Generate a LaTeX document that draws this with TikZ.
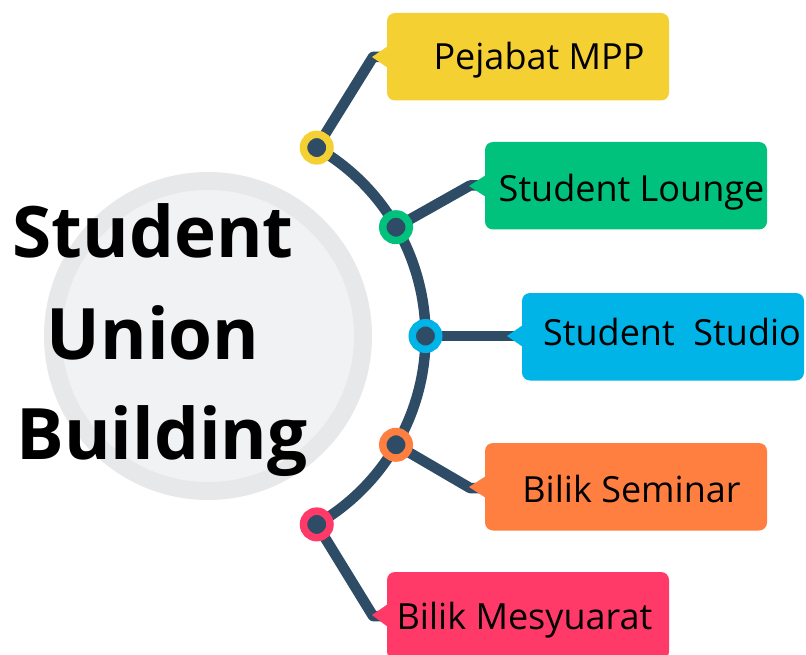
\documentclass[tikz,border=0pt]{standalone}
\usepackage{fontspec}
\setmainfont{Open Sans}
\newfontfamily\titlefont{Open Sans}
\definecolor{navy}{HTML}{2F4C66}
\definecolor{cyel}{HTML}{F5D033}
\definecolor{cgrn}{HTML}{00C27C}
\definecolor{cblu}{HTML}{00B4E8}
\definecolor{cora}{HTML}{FF7F41}
\definecolor{cpnk}{HTML}{FF3A68}
\definecolor{ringc}{HTML}{E7E8EA}
\definecolor{hubc}{HTML}{F1F2F4}
\tikzset{
 infobox/.style={rounded corners=8pt,minimum width=282pt,minimum height=87.5pt,inner sep=0pt,outer sep=0pt,anchor=north west},
 dot/.style={circle,draw=#1,line width=7.5pt,fill=navy,minimum size=26.5pt,inner sep=0pt,outer sep=0pt},
 link/.style={draw=navy,line width=10.5pt,line join=round},
 lab/.style={font=\fontsize{36}{40}\selectfont,text=black,anchor=base,inner sep=0pt},
 ttl/.style={font=\titlefont\bfseries\fontsize{71}{76}\selectfont,text=black,anchor=base,inner sep=0pt},
}
\begin{document}
\begin{tikzpicture}[x=1pt,y=-1pt]
\clip (0,0) rectangle (806,655);
\useasboundingbox (0,0) rectangle (806,655);
\fill[white] (0,0) rectangle (806,655);
% hub
\node[circle,fill=ringc,minimum size=328pt,inner sep=0pt,outer sep=0pt] (hub) at (208,336) {};
\node[circle,fill=hubc,minimum size=292pt,inner sep=0pt,outer sep=0pt] (hubin) at (208,336) {};
% elbows
\coordinate (e1) at (373,57);
\coordinate (e2) at (470,185.5);
\coordinate (e4) at (470,488);
\coordinate (e5) at (373,616);
% arc
\draw[navy,line width=10.5pt] (316.75,147.6) arc[start angle=-60,end angle=60,radius=217.5];
% boxes
\node[infobox,fill=cyel] (b1) at (387,13) {};
\node[infobox,fill=cgrn] (b2) at (485,142) {};
\node[infobox,fill=cblu] (b3) at (522,293) {};
\node[infobox,fill=cora] (b4) at (485,443) {};
\node[infobox,fill=cpnk] (b5) at (387,572) {};
% dot positions
\coordinate (p1) at (316.75,147.6);
\coordinate (p2) at (396,227.2);
\coordinate (p3) at (425.5,336);
\coordinate (p4) at (396,444.8);
\coordinate (p5) at (316.75,524.4);
% connectors
\draw[link] (p1) -- (e1) -- (b1.west|-e1);
\draw[link] (p2) -- (e2) -- (b2.west|-e2);
\draw[link] (p3) -- (b3.west|-p3);
\draw[link] (p4) -- (e4) -- (b4.west|-e4);
\draw[link] (p5) -- (e5) -- (b5.west|-e5);
% dots
\node[dot=cyel] (d1) at (p1) {};
\node[dot=cgrn] (d2) at (p2) {};
\node[dot=cblu] (d3) at (p3) {};
\node[dot=cora] (d4) at (p4) {};
\node[dot=cpnk] (d5) at (p5) {};
% pointers
\fill[cyel] (372,57) -- (388,46) -- (388,68) -- cycle;
\fill[cgrn] (469,186) -- (486,175) -- (486,197) -- cycle;
\fill[cblu] (507,336) -- (523,325) -- (523,347) -- cycle;
\fill[cora] (469,487) -- (486,476) -- (486,498) -- cycle;
\fill[cpnk] (372,615) -- (388,604) -- (388,627) -- cycle;
% labels
\node[lab] (l1) at (539,70) {Pejabat MPP};
\node[lab] (l2) at (631.5,202) {Student Lounge};
\node[lab] (l3) at (672,345) {Student\ \ Studio};
\node[lab] (l4) at (631.5,502) {Bilik Seminar};
\node[lab] (l5) at (524.5,629) {Bilik Mesyuarat};
% title
\node[ttl] (t1) at (153,258) {Student};
\node[ttl] (t2) at (153,359) {Union};
\node[ttl] (t3) at (162,459) {Building};
\end{tikzpicture}
\end{document}
